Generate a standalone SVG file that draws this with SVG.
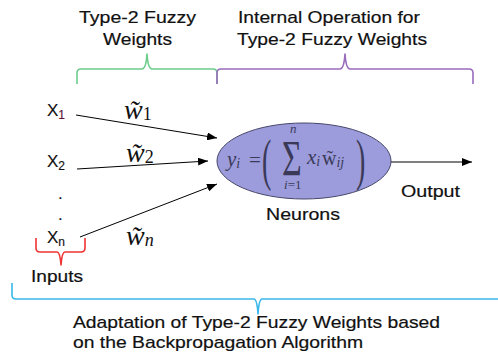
<svg xmlns="http://www.w3.org/2000/svg" width="498" height="356" viewBox="0 0 498 356">
<defs>
<marker id="ah" viewBox="0 0 10 8" refX="10" refY="4" markerWidth="10" markerHeight="8" markerUnits="userSpaceOnUse" orient="auto">
<path d="M0,0 L10,4 L0,8 Z" fill="#000"/>
</marker>
<style>
.t{font-family:"Liberation Sans",Arial,sans-serif;font-size:17px;fill:#111;stroke:#111;stroke-width:0.2px;}
.x{font-family:"Liberation Sans",Arial,sans-serif;font-size:17px;fill:#111;stroke:#111;stroke-width:0.15px;}
.m{font-family:"Liberation Serif","Times New Roman",serif;fill:#111;}
.f{font-family:"Liberation Serif","Times New Roman",serif;fill:#3a3a58;}
.br{fill:none;stroke-width:1.6;stroke-linejoin:round;}
.c{stroke:#000;stroke-width:1;fill:none;}
</style>
</defs>
<rect width="498" height="356" fill="#fff"/>

<g id="braces">
<path class="br" stroke="#6ccc8c" d="M77,84 L77,73 Q77,69 81,69 L142,69 Q146,69 147,54 Q148,69 152,69 L213,69 Q217,69 217,73 L217,84"/>
<path class="br" stroke="#9a6cbc" d="M217,84 L217,73 Q217,69 221,69 L340,69 Q344,69 345,54 Q346,69 350,69 L469,69 Q473,69 473,73 L473,84"/>
<path class="br" stroke="#ee3333" d="M36,238 L36,248 Q36,252 40,252 L57,252 Q60,252 61,265 Q62,252 65,252 L81,252 Q85,252 85,248 L85,238"/>
<path class="br" stroke="#38b8ea" d="M12,283 L12,295 Q12,299 16,299 L254,299 Q257,299 258,314 Q259,299 262,299 L510,299"/>
</g>

<g id="labels">
<text class="t" x="79" y="22.5" textLength="117" lengthAdjust="spacingAndGlyphs">Type-2 Fuzzy</text>
<text class="t" x="103" y="44.5" textLength="69" lengthAdjust="spacingAndGlyphs">Weights</text>
<text class="t" x="238" y="22.5" textLength="182" lengthAdjust="spacingAndGlyphs">Internal Operation for</text>
<text class="t" x="237" y="44.5" textLength="190" lengthAdjust="spacingAndGlyphs">Type-2 Fuzzy Weights</text>
<text class="t" x="31" y="282" textLength="52" lengthAdjust="spacingAndGlyphs">Inputs</text>
<text class="t" x="73" y="328" textLength="367" lengthAdjust="spacingAndGlyphs">Adaptation of Type-2 Fuzzy Weights based</text>
<text class="t" x="73" y="348" textLength="290" lengthAdjust="spacingAndGlyphs">on the Backpropagation Algorithm</text>
</g>

<g id="inputs">
<text class="x" x="47" y="116">X<tspan font-size="12" dy="3" fill="#5a1438" stroke="#5a1438">1</tspan></text>
<text class="x" x="47" y="167">X<tspan font-size="12" dy="3">2</tspan></text>
<text class="x" x="58" y="199" font-size="18">.</text>
<text class="x" x="58" y="220" font-size="18">.</text>
<text class="x" x="47" y="243">X<tspan font-size="12" dy="3">n</tspan></text>
</g>

<g id="weights">
<text class="m" x="124" y="119" font-size="28" font-style="italic">w&#771;<tspan font-style="normal" font-size="18" dy="1">1</tspan></text>
<text class="m" x="126" y="162" font-size="28" font-style="italic">w&#771;<tspan font-style="normal" font-size="18" dy="1">2</tspan></text>
<text class="m" x="126" y="245" font-size="28" font-style="italic">w&#771;<tspan font-size="18" dy="1">n</tspan></text>
</g>

<g id="connectors">
<line class="c" x1="76" y1="115" x2="217" y2="138" marker-end="url(#ah)"/>
<line class="c" x1="77" y1="169" x2="208" y2="161" marker-end="url(#ah)"/>
<line class="c" x1="80" y1="237" x2="217" y2="184" marker-end="url(#ah)"/>
<line class="c" x1="391" y1="162" x2="472" y2="162" marker-end="url(#ah)"/>
</g>

<g id="neuron">
<ellipse cx="304" cy="161" rx="87" ry="38" fill="#9c9cdc" stroke="#46466a" stroke-width="1"/>
<text class="f" x="227" y="166" font-size="21" font-style="italic">y<tspan font-size="14" dy="2">i</tspan></text>
<text class="f" x="249" y="167" font-size="21">=</text>
<text class="f" transform="translate(262,179) scale(0.5,1)" font-size="56">(</text>
<text class="f" transform="translate(356,179) scale(0.5,1)" font-size="56">)</text>
<text class="f" transform="translate(282,175) scale(0.68,1)" font-size="50">Σ</text>
<text class="f" x="290" y="133" font-size="13" font-style="italic">n</text>
<text class="f" x="284" y="189" font-size="13"><tspan font-style="italic">i</tspan>=1</text>
<text class="f" x="307" y="164" font-size="21" font-style="italic">x<tspan font-size="14" dy="2">i</tspan></text>
<text class="f" x="322" y="165" font-size="20">w&#771;<tspan font-size="14" font-style="italic" dy="2">ij</tspan></text>
<text class="t" x="266" y="220" textLength="74" lengthAdjust="spacingAndGlyphs">Neurons</text>
</g>

<g id="output">
<text class="t" x="401" y="197" textLength="59" lengthAdjust="spacingAndGlyphs">Output</text>
</g>
</svg>
